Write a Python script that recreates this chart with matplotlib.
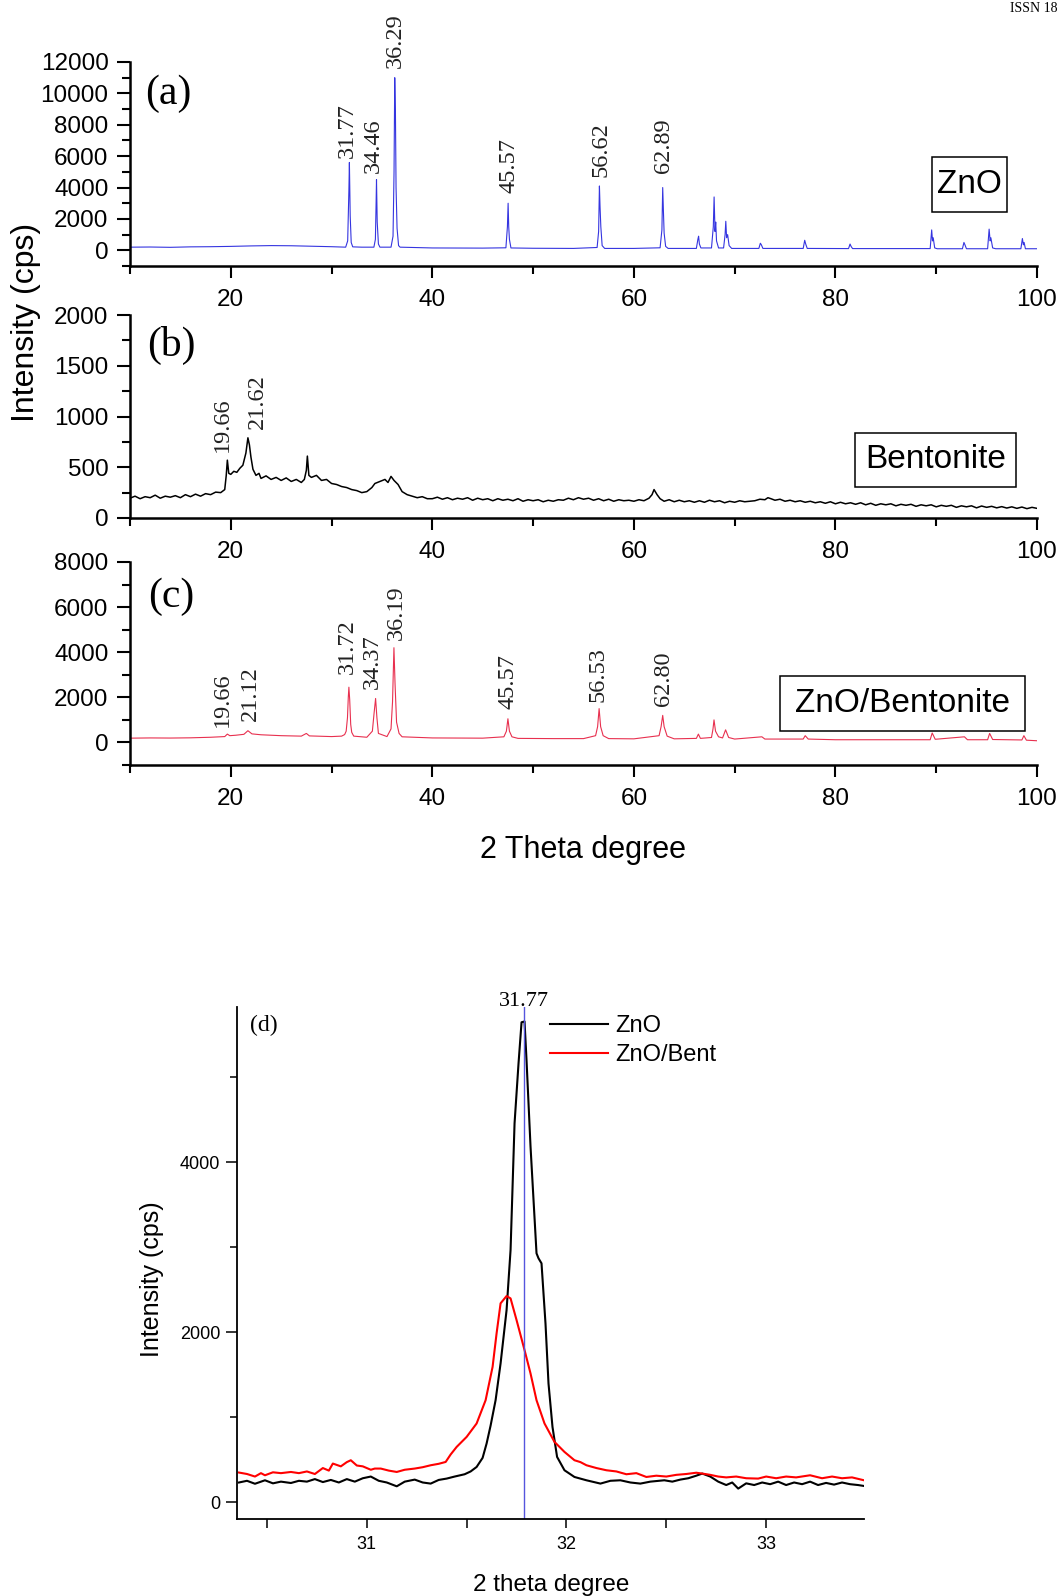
import matplotlib
matplotlib.use("Agg")
import matplotlib.pyplot as plt
from matplotlib.patches import Rectangle
from matplotlib.ticker import MultipleLocator

# ---- data ----
# (a) ZnO pattern
zno_x = [10.0, 12.0, 14.0, 16.0, 18.0, 20.0, 22.0, 24.0, 26.0, 28.0, 30.0, 31.4, 31.6, 31.72, 31.77, 31.85,
         31.95, 32.1, 33.0, 34.2, 34.35, 34.42, 34.46, 34.53, 34.65, 34.8, 35.9, 36.1, 36.2, 36.27, 36.34,
         36.4, 36.5, 36.65, 36.8, 40.0, 45.0, 47.3, 47.45, 47.52, 47.58, 47.65, 47.8, 50.0, 54.0, 56.35,
         56.5, 56.58, 56.64, 56.72, 56.85, 57.1, 60.0, 62.6, 62.78, 62.86, 62.93, 63.0, 63.15, 63.4, 66.2,
         66.35, 66.42, 66.5, 66.65, 67.7, 67.88, 67.96, 68.05, 68.12, 68.2, 68.4, 68.9, 69.05, 69.12, 69.2,
         69.3, 69.45, 69.7, 72.4, 72.55, 72.65, 72.8, 76.8, 76.95, 77.05, 77.2, 81.3, 81.45, 81.55, 81.7,
         89.4, 89.55, 89.63, 89.7, 89.85, 90.1, 92.6, 92.75, 92.85, 93.0, 95.1, 95.25, 95.35, 95.42, 95.6,
         95.9, 98.4, 98.55, 98.65, 98.72, 98.85, 100.0]
zno_y = [200, 210, 190, 220, 230, 250, 280, 300, 290, 260, 230, 200, 600, 3800, 5600, 2200,
         500, 220, 200, 200, 700, 3000, 4500, 1800, 400, 200, 200, 900, 5000, 11000, 8700,
         4000, 1400, 300, 200, 150, 140, 160, 1500, 3000, 1500, 700, 150, 130, 120, 180,
         1200, 4100, 2800, 1500, 300, 120, 120, 160, 1300, 4000, 2500, 1100, 250, 120, 120,
         700, 900, 400, 150, 150, 1500, 3400, 1200, 1800, 600, 150, 150, 1000, 1850, 800,
         1000, 300, 120, 120, 450, 350, 120, 120, 640, 400, 120, 110, 400, 250, 110,
         110, 1300, 600, 800, 150, 100, 100, 500, 350, 100, 100, 1350, 600, 800, 150,
         100, 100, 750, 350, 500, 100, 100]

# (b) Bentonite pattern
bent_x = [10.0, 10.5, 11.0, 11.5, 12.0, 12.5, 13.0, 13.5, 14.0, 14.5, 15.0, 15.5, 16.0, 16.5, 17.0, 17.5,
          18.0, 18.5, 19.0, 19.4, 19.55, 19.66, 19.8, 20.0, 20.3, 20.6, 20.9, 21.2, 21.5, 21.7, 21.85, 22.0,
          22.2, 22.5, 22.8, 23.0, 23.5, 24.0, 24.5, 25.0, 25.5, 26.0, 26.5, 27.0, 27.3, 27.5, 27.6, 27.75,
          28.0, 28.5, 29.0, 29.5, 30.0, 30.5, 31.0, 31.5, 32.0, 32.5, 33.0, 33.5, 34.0, 34.3, 34.8, 35.3,
          35.6, 35.9, 36.2, 36.6, 37.0, 37.5, 38.0, 38.5, 39.0, 39.5,
          40.0, 40.5, 41.0, 41.5, 42.0, 42.5, 43.0, 43.5, 44.0, 44.5, 45.0, 45.5, 46.0, 46.5, 47.0, 47.5,
          48.0, 48.5, 49.0, 49.5, 50.0, 50.5, 51.0, 51.5, 52.0, 52.5, 53.0, 53.5, 54.0, 54.5, 55.0, 55.5,
          56.0, 56.5, 57.0, 57.5, 58.0, 58.5, 59.0, 59.5, 60.0, 60.5, 61.0, 61.5, 61.8, 62.0, 62.3, 62.6,
          63.0, 63.5, 64.0, 64.5, 65.0, 65.5, 66.0, 66.5, 67.0, 67.5, 68.0, 68.5, 69.0, 69.5, 70.0, 70.5,
          71.0, 71.5, 72.0, 72.5, 73.0, 73.3, 73.6, 74.0, 74.5, 75.0, 75.5, 76.0, 76.5, 77.0, 77.5, 78.0,
          78.5, 79.0, 79.5, 80.0, 80.5, 81.0, 81.5, 82.0, 82.5, 83.0, 83.5, 84.0, 84.5, 85.0, 85.5, 86.0,
          86.5, 87.0, 87.5, 88.0, 88.5, 89.0, 89.5, 90.0, 90.5, 91.0, 91.5, 92.0, 92.5, 93.0, 93.5, 94.0,
          94.5, 95.0, 95.5, 96.0, 96.5, 97.0, 97.5, 98.0, 98.5, 99.0, 99.5, 100.0]
bent_y = [195, 215, 190, 210, 200, 225, 195, 215, 205, 220, 200, 230, 210, 235, 215, 240,
          230, 255, 250, 280, 420, 570, 440, 430, 460, 450, 490, 520, 640, 790, 720, 600,
          480, 420, 440, 390, 415, 380, 400, 370, 395, 360, 380, 350, 380, 470, 610, 420,
          400, 420, 370, 380, 340, 330, 310, 300, 280, 270, 250, 260, 300, 340, 360, 380,
          350, 410, 370, 330, 260, 230, 215, 200, 210, 190,
          190, 205, 185, 200, 180, 195, 185, 200, 175, 195, 180, 190, 170, 190, 175, 185,
          170, 190, 165, 180, 170, 180, 160, 175, 165, 180, 175, 195, 180, 200, 185, 195,
          175, 190, 170, 185, 165, 180, 170, 175, 165, 180, 170, 195, 230, 280, 230, 190,
          165, 180, 160, 175, 160, 170, 155, 170, 155, 175, 160, 170, 150, 165, 155, 170,
          160, 165, 170, 185, 180, 200, 190, 175, 185, 165, 175, 160, 170, 155, 165, 150,
          160, 145, 160, 140, 155, 140, 150, 135, 150, 130, 145, 125, 140, 130, 140, 120,
          135, 125, 135, 115, 130, 120, 130, 110, 125, 115, 125, 105, 120, 110, 120, 100,
          118, 105, 115, 100, 112, 98, 110, 95, 108, 92, 105, 95]

# (c) ZnO/Bentonite pattern
comp_x = [10.0, 12.0, 14.0, 16.0, 18.0, 19.4, 19.66, 19.9, 20.5, 21.3, 21.7, 22.1, 23.0, 25.0, 27.0, 27.5,
          27.8, 30.0, 31.0, 31.3, 31.45, 31.58, 31.66, 31.72, 31.8, 31.9, 32.0, 32.2, 33.5, 34.05, 34.22,
          34.37, 34.5, 34.65, 35.5, 35.9, 36.05, 36.19, 36.3, 36.45, 36.7, 37.0, 40.0, 45.0, 47.1, 47.35,
          47.5, 47.65, 47.9, 48.5, 52.0, 55.0, 56.2, 56.4, 56.55, 56.7, 56.95, 57.5, 60.0, 62.5, 62.7,
          62.86, 63.0, 63.3, 64.0, 66.2, 66.4, 66.6, 67.7, 67.85, 67.95, 68.1, 68.4, 68.8, 69.1, 69.4, 70.0,
          72.7, 73.0, 76.8, 77.0, 77.3, 80.0, 89.4, 89.6, 89.9, 92.8, 93.1, 95.1, 95.3, 95.6, 98.5, 98.7,
          98.95, 100.0]
comp_y = [190, 200, 195, 205, 230, 260, 370, 300, 320, 360, 520, 380, 340, 300, 280, 400,
          290, 260, 280, 350, 500, 1100, 2000, 2450, 1900, 800, 450, 280, 230, 500, 1300,
          1950, 1100, 400, 260, 600, 1800, 4200, 2600, 900, 400, 250, 200, 190, 250, 500,
          1050, 500, 250, 180, 170, 170, 300, 700, 1500, 700, 300, 170, 160, 300, 700,
          1200, 700, 280, 160, 180, 370, 180, 220, 600, 1000, 500, 250, 200, 560, 220, 150,
          250, 150, 150, 300, 150, 120, 120, 420, 140, 250, 120, 120, 400, 130, 110, 300,
          100, 75]

# (d) zoom on the 31.77 reflection
d_zno_x = [30.36, 30.40, 30.44, 30.49, 30.53, 30.57, 30.62, 30.66, 30.70, 30.74, 30.78, 30.82, 30.86, 30.90,
           30.94, 30.98, 31.02, 31.06, 31.10, 31.15, 31.19, 31.24, 31.28, 31.32, 31.36, 31.40, 31.44, 31.49,
           31.52, 31.55, 31.58, 31.60, 31.62, 31.645, 31.67, 31.70, 31.72, 31.74, 31.76, 31.775, 31.79, 31.80,
           31.82, 31.85, 31.86, 31.875, 31.895, 31.91, 31.93, 31.953, 31.99, 32.04, 32.10, 32.17, 32.22,
           32.27, 32.32, 32.37, 32.42, 32.49, 32.53, 32.57, 32.61, 32.65, 32.68, 32.72, 32.76, 32.80, 32.83,
           32.86, 32.90, 32.94, 32.98, 33.02, 33.06, 33.10, 33.14, 33.18, 33.22, 33.26, 33.30, 33.34, 33.38,
           33.42, 33.46, 33.49]
d_zno_y = [230, 250, 215, 256, 220, 240, 224, 250, 240, 270, 235, 260, 230, 270,
           240, 280, 300, 250, 230, 185, 240, 264, 230, 217, 260, 276, 300, 327,
           360, 413, 520, 689, 900, 1199, 1632, 2260, 2968, 4460, 5170, 5650, 5660, 5200,
           4186, 2929, 2870, 2811, 2100, 1396, 884, 531, 374, 295, 256, 217, 250,
           256, 230, 217, 240, 256, 240, 264, 280, 310, 335, 300, 240, 200, 230,
           158, 220, 200, 230, 210, 240, 200, 230, 210, 240, 200, 225, 205, 230,
           210, 200, 189]
d_comp_x = [30.36, 30.40, 30.44, 30.47, 30.49, 30.53, 30.57, 30.62, 30.66, 30.70, 30.74, 30.78, 30.81, 30.83,
            30.87, 30.90, 30.92, 30.95, 30.98, 31.02, 31.04, 31.07, 31.11, 31.15, 31.19, 31.24, 31.28, 31.32,
            31.36, 31.395, 31.42, 31.45, 31.50, 31.55, 31.595, 31.63, 31.65, 31.67, 31.70, 31.72, 31.75, 31.79,
            31.82, 31.85, 31.89, 31.94, 31.99, 32.04, 32.07, 32.10, 32.15, 32.20, 32.25, 32.30, 32.35, 32.40,
            32.45, 32.50, 32.55, 32.60, 32.65, 32.68, 32.72, 32.76, 32.80, 32.85, 32.90, 32.96, 33.00, 33.05,
            33.10, 33.15, 33.22, 33.28, 33.33, 33.38, 33.43, 33.49]
d_comp_y = [347, 330, 300, 340, 315, 350, 340, 354, 340, 360, 330, 400, 370, 453,
            420, 470, 492, 430, 420, 380, 394, 394, 370, 354, 380, 394, 410, 433,
            450, 472, 560, 649, 767, 925, 1199, 1592, 1986, 2340, 2426, 2398, 2143, 1789,
            1514, 1199, 925, 708, 590, 492, 470, 433, 400, 374, 360, 327, 340, 295,
            310, 300, 320, 330, 345, 335, 320, 300, 290, 300, 280, 276, 300, 280,
            300, 290, 315, 280, 300, 280, 290, 256]
d_line_x = 31.785

# peak labels: text, x, y of text bottom (data units)
a_lbl = ["31.77", "34.46", "36.29", "45.57", "56.62", "62.89"]
a_lbl_x = [31.6, 34.17, 36.3, 47.6, 56.73, 62.93]
a_lbl_y = [5900, 4900, 11600, 3640, 4660, 4900]
b_lbl = ["19.66", "21.62"]
b_lbl_x = [19.13, 22.6]
b_lbl_y = [650, 880]
c_lbl = ["19.66", "21.12", "31.72", "34.37", "36.19", "45.57", "56.53", "62.80"]
c_lbl_x = [19.13, 21.94, 31.53, 34.0, 36.4, 47.5, 56.4, 62.93]
c_lbl_y = [670, 960, 3040, 2390, 4550, 1500, 1780, 1600]

W, H = 1062, 1596
SANS = ["Liberation Sans", "DejaVu Sans"]
SERIF = ["Liberation Serif", "DejaVu Serif"]
plt.rcParams["font.family"] = SANS

fig = plt.figure(figsize=(W / 100, H / 100), dpi=100)


def px_axes(left, top, right, bottom):
    return fig.add_axes([left / W, 1 - bottom / H, (right - left) / W, (bottom - top) / H])


def style_xrd(ax, ylim, ymaj, ymin):
    ax.set_xlim(10, 100)
    ax.set_ylim(*ylim)
    for s in ["top", "right"]:
        ax.spines[s].set_visible(False)
    for s in ["left", "bottom"]:
        ax.spines[s].set_linewidth(1.8)
    ax.xaxis.set_major_locator(MultipleLocator(20))
    ax.xaxis.set_minor_locator(MultipleLocator(10))
    ax.yaxis.set_major_locator(MultipleLocator(ymaj))
    ax.yaxis.set_minor_locator(MultipleLocator(ymin))
    ax.tick_params(axis="x", which="major", length=8.6, width=1.5, pad=8, labelsize=17.5)
    ax.tick_params(axis="x", which="minor", length=5.8, width=1.5)
    ax.tick_params(axis="y", which="major", length=9.4, width=1.5, pad=6, labelsize=17.5)
    ax.tick_params(axis="y", which="minor", length=5.8, width=1.5)


def box_label(ax, text, bx, by, bw, bh, tx, ty):
    ax.add_patch(Rectangle((bx, by), bw, bh, transform=ax.transAxes, fill=False,
                           lw=1.1, ec="black", clip_on=False))
    ax.text(tx, ty, text, transform=ax.transAxes, ha="center", va="center", fontsize=24)


def peak_labels(ax, labels, xs, ys):
    for t, x, y in zip(labels, xs, ys):
        ax.text(x, y, t, rotation=90, ha="center", va="bottom", fontsize=17.5,
                family=SERIF, color="#222222")


# panel (a)
ax_a = px_axes(130, 62, 1037, 266)
ax_a.plot(zno_x, zno_y, color="#3535e0", lw=0.8)
style_xrd(ax_a, (-1000, 12000), 2000, 1000)
peak_labels(ax_a, a_lbl, a_lbl_x, a_lbl_y)
ax_a.text(13.8, 10000, "(a)", fontsize=30, family=SERIF, ha="center", va="center")
box_label(ax_a, "ZnO", 0.884, 0.265, 0.0827, 0.27, 0.926, 0.40)

# panel (b)
ax_b = px_axes(130, 315, 1037, 518)
ax_b.plot(bent_x, bent_y, color="black", lw=1.1)
style_xrd(ax_b, (0, 2000), 500, 250)
peak_labels(ax_b, b_lbl, b_lbl_x, b_lbl_y)
ax_b.text(14.1, 1700, "(b)", fontsize=30, family=SERIF, ha="center", va="center")
box_label(ax_b, "Bentonite", 0.7993, 0.1527, 0.1775, 0.266, 0.8887, 0.286)

# panel (c)
ax_c = px_axes(130, 562, 1037, 765)
ax_c.plot(comp_x, comp_y, color="#e8304f", lw=0.8)
style_xrd(ax_c, (-1000, 8000), 2000, 1000)
peak_labels(ax_c, c_lbl, c_lbl_x, c_lbl_y)
ax_c.text(14.1, 6440, "(c)", fontsize=30, family=SERIF, ha="center", va="center")
box_label(ax_c, "ZnO/Bentonite", 0.7166, 0.1675, 0.2701, 0.271, 0.8512, 0.303)

fig.text(26 / W, 1 - 322 / H, "Intensity (cps)", rotation=90, ha="center", va="center", fontsize=23)
fig.text(583 / W, 1 - 850 / H, "2 Theta degree", ha="center", va="center", fontsize=22)

# panel (d)
ax_d = px_axes(237, 1007, 864, 1519)
ax_d.plot(d_zno_x, d_zno_y, color="black", lw=1.5, label="ZnO")
ax_d.plot(d_comp_x, d_comp_y, color="#ff0000", lw=1.5, label="ZnO/Bent")
ax_d.axvline(d_line_x, ymin=0, ymax=1.0, color="#5555dd", lw=1.0)
ax_d.set_xlim(30.35, 33.49)
ax_d.set_ylim(-200, 5830)
for s in ["top", "right"]:
    ax_d.spines[s].set_visible(False)
for s in ["left", "bottom"]:
    ax_d.spines[s].set_linewidth(1.3)
ax_d.xaxis.set_major_locator(MultipleLocator(1))
ax_d.xaxis.set_minor_locator(MultipleLocator(0.5))
ax_d.yaxis.set_major_locator(MultipleLocator(2000))
ax_d.yaxis.set_minor_locator(MultipleLocator(1000))
ax_d.tick_params(axis="x", which="major", length=6.5, width=1.1, pad=6, labelsize=13)
ax_d.tick_params(axis="x", which="minor", length=6.5, width=1.1)
ax_d.tick_params(axis="y", which="major", length=7.7, width=1.1, pad=4.5, labelsize=13)
ax_d.tick_params(axis="y", which="minor", length=5, width=1.1)
ax_d.annotate("31.77", (d_line_x, 5830), xytext=(0, 3.8), textcoords="offset points",
              ha="center", va="center", fontsize=16, family=SERIF)
ax_d.text(0.021, 0.963, "(d)", transform=ax_d.transAxes, fontsize=17, family=SERIF,
          ha="left", va="center")
ax_d.legend(loc="upper left", bbox_to_anchor=(0.499, 0.984), frameon=False, fontsize=17,
            handlelength=2.45, handletextpad=0.3, labelspacing=0.3, borderpad=0, borderaxespad=0)

fig.text(152 / W, 1 - 1279 / H, "Intensity (cps)", rotation=90, ha="center", va="center", fontsize=18)
fig.text(551 / W, 1 - 1585 / H, "2 theta degree", ha="center", va="center", fontsize=17.5)

fig.text(1058 / W, 1 - 9 / H, "ISSN 18", ha="right", va="center", fontsize=10, family=SERIF)

fig.savefig("out.png", dpi=100)
